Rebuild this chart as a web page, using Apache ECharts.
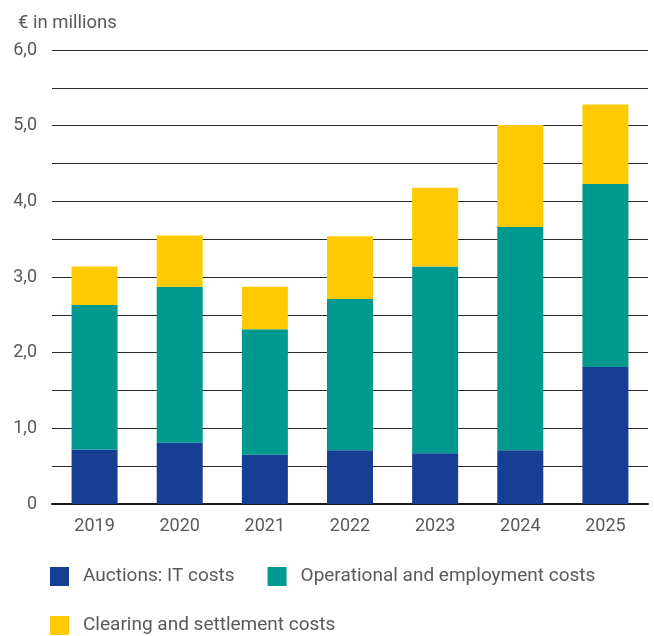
<!DOCTYPE html>
<html>
<head>
<meta charset="utf-8">
<script src="https://cdn.jsdelivr.net/npm/echarts@6/dist/echarts.min.js"></script>
<style>
  html, body { margin: 0; padding: 0; background: #fff; }
  #chart { width: 654px; height: 636px; }
</style>
</head>
<body>
<div id="chart"></div>
<script>
// Yearly cost breakdown, € in millions (stacked segments)
const years = ['2019', '2020', '2021', '2022', '2023', '2024', '2025'];
const auctionsIT = [0.72, 0.81, 0.65, 0.71, 0.67, 0.71, 1.81];
const operational = [1.91, 2.06, 1.66, 2.00, 2.47, 2.95, 2.42];
const clearing = [0.51, 0.68, 0.56, 0.83, 1.04, 1.35, 1.05];

const seriesNames = ['Auctions: IT costs', 'Operational and employment costs', 'Clearing and settlement costs'];
const seriesColors = ['#163f93', '#00998f', '#ffcb00'];

const FONT = 'Roboto, "Noto Sans", sans-serif';
const TEXT = '#595959';

const chart = echarts.init(document.getElementById('chart'), null, { renderer: 'canvas' });

const legendText = { fontFamily: FONT, fontSize: 19, color: TEXT, padding: [0, 0, 0, 9] };

chart.setOption({
  animation: false,
  title: {
    text: '€ in millions',
    left: 13, top: 9,
    textStyle: { fontFamily: FONT, fontSize: 18.5, fontWeight: 'normal', color: TEXT }
  },
  grid: { left: 52, right: 6, top: 50, bottom: 132, containLabel: false },
  legend: [
    {
      data: seriesNames.slice(0, 2),
      left: 50, top: 567, padding: 0,
      icon: 'rect', itemWidth: 19, itemHeight: 19, itemGap: 33,
      textStyle: legendText
    },
    {
      data: seriesNames.slice(2),
      left: 50, top: 616, padding: 0,
      icon: 'rect', itemWidth: 19, itemHeight: 19, itemGap: 33,
      textStyle: legendText
    }
  ],
  xAxis: {
    type: 'category',
    data: years,
    axisLine: { lineStyle: { color: '#1a1a1a', width: 2 } },
    axisTick: { length: 10, lineStyle: { color: '#1a1a1a', width: 1.5 } },
    axisLabel: { fontFamily: FONT, fontSize: 18, color: TEXT, margin: 13 }
  },
  yAxis: {
    type: 'value',
    min: 0, max: 6, interval: 0.5,
    axisLine: { show: false },
    axisTick: { show: false },
    axisLabel: {
      fontFamily: FONT, fontSize: 18, color: TEXT, margin: 15,
      formatter: v => (Math.abs(v % 1) < 1e-9 ? (v === 0 ? '0' : v.toFixed(1).replace('.', ',')) : '')
    },
    splitLine: { lineStyle: { color: '#2a2a2a', width: 1.2 } }
  },
  series: [
    { name: seriesNames[0], type: 'bar', stack: 'total', data: auctionsIT, barWidth: 46, itemStyle: { color: seriesColors[0] } },
    { name: seriesNames[1], type: 'bar', stack: 'total', data: operational, barWidth: 46, itemStyle: { color: seriesColors[1] } },
    { name: seriesNames[2], type: 'bar', stack: 'total', data: clearing, barWidth: 46, itemStyle: { color: seriesColors[2] } }
  ]
});
</script>
</body>
</html>
